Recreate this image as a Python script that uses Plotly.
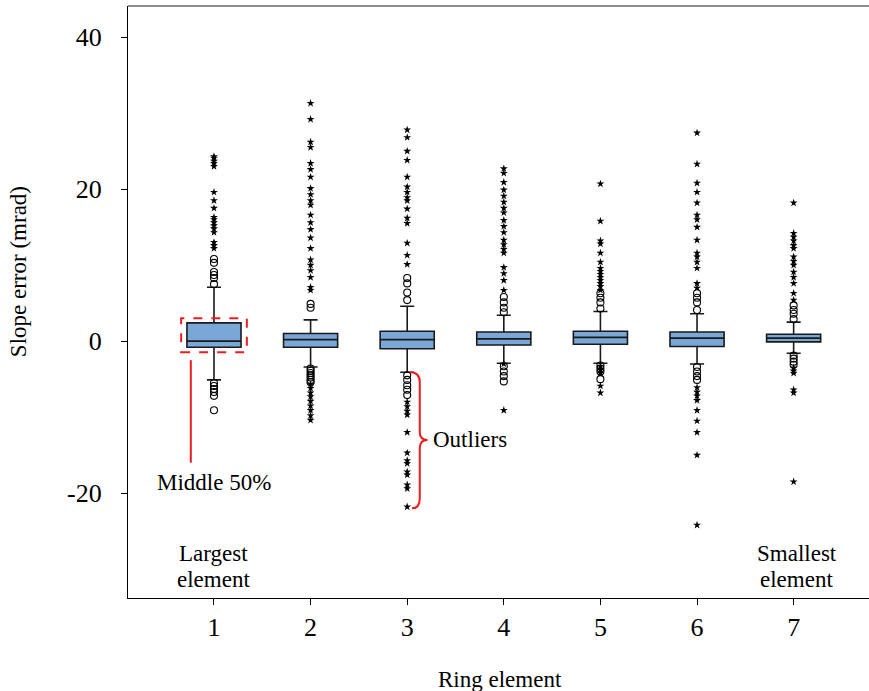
import plotly.graph_objects as go

# ---------------- data ----------------
elements = [1, 2, 3, 4, 5, 6, 7]
q1 = [-0.8, -0.8, -1.0, -0.5, -0.4, -0.7, -0.1]
median = [0.0, 0.2, 0.2, 0.3, 0.5, 0.4, 0.4]
q3 = [2.4, 1.0, 1.3, 1.2, 1.3, 1.2, 0.9]
lower_whisker = [-5.1, -3.4, -4.1, -2.9, -2.9, -3.0, -1.6]
upper_whisker = [7.1, 2.8, 4.6, 3.4, 3.9, 3.6, 2.5]

# mild outliers (open circles)
circles_1 = [10.8, 10.3, 9.1, 8.7, 8.3, 7.5, -5.5, -5.9, -6.3, -6.7, -7.2, -9.1]
circles_2 = [4.9, 4.4, -3.6, -3.9, -4.2, -4.5, -4.8, -5.1, -5.4]
circles_3 = [8.3, 7.6, 6.4, 5.4, -4.5, -5.1, -5.8, -6.4, -7.1]
circles_4 = [5.8, 5.1, 4.4, 3.8, -3.3, -4.0, -4.6, -5.3]
circles_5 = [6.3, 5.7, 5.1, 4.3, -3.2, -3.6, -4.0, -5.0]
circles_6 = [6.3, 5.7, 5.1, 4.1, -3.4, -4.0, -4.6, -5.1]
circles_7 = [4.7, 4.1, 3.6, 2.9, -1.9, -2.3, -2.7, -3.1]

# extreme outliers (stars)
stars_1 = [24.3, 24.1, 23.7, 23.4, 23.0, 19.6, 18.5, 17.5, 16.3, 16.0, 15.6,
           15.2, 14.8, 14.3, 13.0, 12.6, 12.2]
stars_2 = [31.3, 29.2, 26.2, 25.5, 23.4, 22.6, 21.6, 20.1, 19.3, 18.5, 17.9,
           16.6, 15.6, 14.7, 13.6, 12.2, 10.7, 10.0, 9.3, 8.4, 7.1, 6.7,
           -5.7, -6.2, -6.8, -7.3, -7.9, -8.5, -9.1, -9.8, -10.4]
stars_3 = [27.8, 26.8, 25.0, 23.8, 21.6, 20.3, 19.6, 18.9, 18.5, 17.4, 16.2,
           15.5, 12.9, 11.3, 10.1, -8.0, -8.6, -9.2, -9.7, -12.0, -14.7,
           -15.7, -16.1, -17.2, -17.6, -18.9, -19.4, -21.8]
stars_4 = [22.7, 22.1, 20.9, 19.9, 19.1, 18.3, 17.5, 16.9, 15.9, 15.1, 14.3,
           13.3, 12.7, 12.1, 11.6, 9.7, 8.9, 8.0, 6.7, -3.0, -9.1]
stars_5 = [20.7, 15.8, 13.2, 12.8, 11.6, 10.4, 9.6, 9.2, 8.8, 8.4, 8.0, 7.6,
           7.2, 6.7, -3.3, -3.8, -4.2, -5.9, -6.8]
stars_6 = [27.4, 23.3, 20.8, 19.6, 18.2, 16.6, 16.0, 15.0, 13.3, 11.6, 11.1,
           10.4, 9.6, 7.6, 7.0, -6.1, -6.7, -7.2, -7.8, -9.1, -10.5, -12.0,
           -15.0, -24.2]
stars_7 = [18.2, 14.2, 13.7, 13.2, 12.6, 12.2, 11.1, 10.5, 10.0, 9.1, 8.4,
           7.6, 6.3, 5.4, -3.5, -3.9, -4.2, -6.4, -6.8, -18.5]

circles = [circles_1, circles_2, circles_3, circles_4, circles_5, circles_6, circles_7]
stars = [stars_1, stars_2, stars_3, stars_4, stars_5, stars_6, stars_7]

x_tick_labels = ["1", "2", "3", "4", "5", "6", "7"]
y_ticks = [-20, 0, 20, 40]
y_tick_labels = ["-20", "0", "20", "40"]

# ---------------- figure ----------------
FONT = "Liberation Serif"
fig = go.Figure()

for i, e in enumerate(elements):
    fig.add_trace(go.Box(
        x=[e], q1=[q1[i]], median=[median[i]], q3=[q3[i]],
        lowerfence=[lower_whisker[i]], upperfence=[upper_whisker[i]],
        boxpoints=False, width=0.56, whiskerwidth=0.26,
        fillcolor="#7BA7D7", line=dict(color="#1a1a1a", width=1.6),
        showlegend=False, hoverinfo="skip",
    ))

for i, e in enumerate(elements):
    fig.add_trace(go.Scatter(
        x=[e] * len(circles[i]), y=circles[i], mode="markers",
        marker=dict(symbol="circle-open", size=7, color="black", line=dict(width=1.1)),
        showlegend=False, hoverinfo="skip",
    ))
    fig.add_trace(go.Scatter(
        x=[e] * len(stars[i]), y=stars[i], mode="markers",
        marker=dict(symbol="star", size=6, color="black", line=dict(width=0)),
        showlegend=False, hoverinfo="skip",
    ))

RED = "#ee1c1c"
shapes = [
    # top frame line
    dict(type="line", xref="paper", yref="paper", x0=0, x1=1, y0=1, y1=1,
         line=dict(color="#666666", width=1.5)),
    # dashed rectangle around middle 50%
    dict(type="rect", xref="x", yref="y", x0=0.66, x1=1.34, y0=-1.45, y1=3.0,
         line=dict(color=RED, width=2, dash="dash")),
    # leader line
    dict(type="line", xref="x", yref="y", x0=0.76, x1=0.76, y0=-2.5, y1=-16.0,
         line=dict(color=RED, width=2)),
    # curly brace for outliers
    dict(type="path", xref="x", yref="y",
         path="M 3.03,-4.1 Q 3.13,-4.1 3.13,-5.4 L 3.13,-12.0 Q 3.13,-13.0 3.21,-13.0 "
              "Q 3.13,-13.0 3.13,-14.1 L 3.13,-20.7 Q 3.13,-22.0 3.05,-22.0",
         line=dict(color=RED, width=2)),
]

TXT = dict(size=23, color="black", family=FONT)
annotations = [
    dict(text="Middle 50%", x=1.0, y=-18.6, xref="x", yref="y", showarrow=False,
         xanchor="center", yanchor="middle", font=TXT),
    dict(text="Outliers", x=3.25, y=-13.0, xref="x", yref="y", showarrow=False,
         xanchor="left", yanchor="middle", font=TXT),
    dict(text="Largest", x=1.0, y=-28.0, xref="x", yref="y", showarrow=False,
         xanchor="center", yanchor="middle", font=TXT),
    dict(text="element", x=1.0, y=-31.4, xref="x", yref="y", showarrow=False,
         xanchor="center", yanchor="middle", font=TXT),
    dict(text="Smallest", x=7.03, y=-28.0, xref="x", yref="y", showarrow=False,
         xanchor="center", yanchor="middle", font=TXT),
    dict(text="element", x=7.03, y=-31.4, xref="x", yref="y", showarrow=False,
         xanchor="center", yanchor="middle", font=TXT),
    dict(text="Slope error (mrad)", x=-0.148, y=0.551, xref="paper", yref="paper",
         xanchor="center", yanchor="middle",
         textangle=-90, showarrow=False, font=dict(size=23, color="black", family=FONT)),
    dict(text="Ring element", x=0.502, y=-0.137, xref="paper", yref="paper",
         xanchor="center", yanchor="middle",
         showarrow=False, font=dict(size=23, color="black", family=FONT)),
]

fig.update_layout(
    width=869, height=691,
    margin=dict(l=128, r=0, t=6, b=93),
    paper_bgcolor="white", plot_bgcolor="white",
    font=dict(family=FONT, color="black"),
    shapes=shapes, annotations=annotations,
    xaxis=dict(range=[0.11, 7.78], tickvals=elements, ticktext=x_tick_labels,
               showgrid=False, zeroline=False, showline=True, linecolor="black",
               linewidth=1.2, ticks="outside", ticklen=6, tickcolor="black",
               tickfont=dict(size=26, family=FONT)),
    yaxis=dict(range=[-33.8, 44.1], tickvals=y_ticks, ticktext=y_tick_labels,
               showgrid=False, zeroline=False, showline=True, linecolor="black",
               linewidth=1.2, ticks="outside", ticklen=6, tickcolor="black",
               ticklabelstandoff=14,
               tickfont=dict(size=26, family=FONT)),
)

fig.write_html("out.html", config={"displayModeBar": False},
               post_script="document.body.style.margin='0px';")
